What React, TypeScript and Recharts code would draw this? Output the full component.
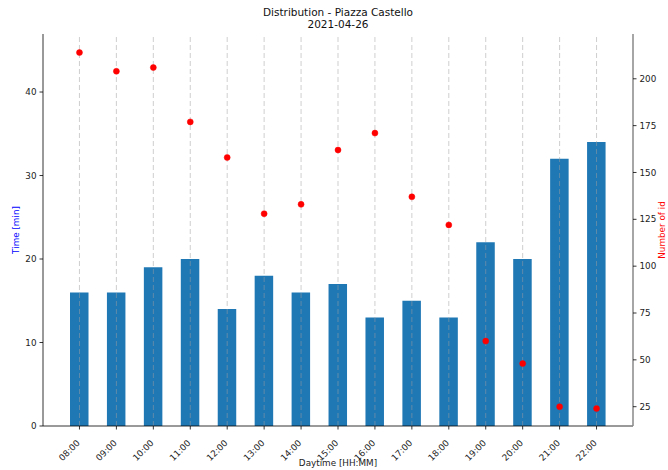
import React from 'react';
import {
  ComposedChart,
  Bar,
  Line,
  XAxis,
  YAxis,
  ReferenceLine,
} from 'recharts';

// Hourly categories on the x axis
const hours = [
  '08:00', '09:00', '10:00', '11:00', '12:00', '13:00', '14:00', '15:00',
  '16:00', '17:00', '18:00', '19:00', '20:00', '21:00', '22:00',
];

// Time spent (minutes) per hour – bars, left axis
const timeMin = [16, 16, 19, 20, 14, 18, 16, 17, 13, 15, 13, 22, 20, 32, 34];

// Number of distinct ids per hour – red dots, right axis
const idCount = [214, 204, 206, 177, 158, 128, 133, 162, 171, 137, 122, 60, 48, 25, 24];

const leftTicks = [0, 10, 20, 30, 40];
const rightTicks = [25, 50, 75, 100, 125, 150, 175, 200];

const data = hours.map((hour, i) => ({
  hour,
  time: timeMin[i],
  ids: idCount[i],
}));

const FONT = '"DejaVu Sans", sans-serif';
const W = 668;
const H = 470;
const TICK_FS = 8.8;
// vertical centre of the plotting area (top 34, bottom 426)
const PLOT_MID_Y = 230;

const RotatedTick = (props: any) => {
  const { x, y, payload } = props;
  return (
    <g transform={`translate(${x + 1},${y + 12})`}>
      <text
        x={0}
        y={0}
        transform="rotate(-45)"
        textAnchor="end"
        fontSize={TICK_FS}
        fontFamily={FONT}
        fill="#222"
      >
        {payload.value}
      </text>
    </g>
  );
};

export default function App() {
  return (
    <div
      style={{
        position: 'absolute',
        left: 0,
        top: 0,
        width: W,
        height: H,
        background: '#fff',
        fontFamily: FONT,
      }}
    >
      <div
        style={{
          position: 'absolute',
          left: 43,
          width: 590,
          top: 6,
          textAlign: 'center',
          fontSize: 10.5,
          lineHeight: '12px',
          color: '#111',
        }}
      >
        Distribution - Piazza Castello
        <br />
        2021-04-26
      </div>
      <ComposedChart
        width={W}
        height={H}
        data={data}
        margin={{ top: 34, right: 0, bottom: 0, left: 0 }}
        style={{ fontFamily: FONT }}
      >
        <XAxis
          dataKey="hour"
          type="category"
          height={44}
          padding={{ left: 18, right: 18 }}
          interval={0}
          tick={<RotatedTick />}
          tickSize={3.5}
          axisLine={{ stroke: '#000', strokeWidth: 0.8 }}
          tickLine={{ stroke: '#000', strokeWidth: 0.8 }}
          label={(p: any) => {
            const vb = p.viewBox;
            return (
              <text
                x={vb.x + vb.width / 2}
                y={466}
                textAnchor="middle"
                fontSize={TICK_FS}
                fontFamily={FONT}
                fill="#222"
              >
                Daytime [HH:MM]
              </text>
            );
          }}
        />
        <XAxis
          xAxisId="top"
          dataKey="hour"
          orientation="top"
          height={0}
          tick={false}
          tickLine={false}
          axisLine={{ stroke: '#000', strokeWidth: 0.8 }}
        />
        <YAxis
          yAxisId="left"
          orientation="left"
          width={43}
          domain={[0, 46.95]}
          ticks={leftTicks}
          allowDataOverflow
          tickSize={3.5}
          tickMargin={3}
          tick={{ fontSize: TICK_FS, fill: '#222', fontFamily: FONT }}
          axisLine={{ stroke: '#000', strokeWidth: 0.8 }}
          tickLine={{ stroke: '#000', strokeWidth: 0.8 }}
          label={() => (
            <text
              x={19}
              y={PLOT_MID_Y}
              transform={`rotate(-90, 19, ${PLOT_MID_Y})`}
              textAnchor="middle"
              fontSize={TICK_FS}
              fontFamily={FONT}
              fill="blue"
            >
              Time [min]
            </text>
          )}
        />
        <YAxis
          yAxisId="right"
          orientation="right"
          width={35}
          domain={[14.7, 223.9]}
          ticks={rightTicks}
          allowDataOverflow
          tickSize={3.5}
          tickMargin={3}
          tick={{ fontSize: TICK_FS, fill: '#222', fontFamily: FONT }}
          axisLine={{ stroke: '#888', strokeWidth: 1.5 }}
          tickLine={{ stroke: '#000', strokeWidth: 0.8 }}
          label={() => (
            <text
              x={665}
              y={PLOT_MID_Y}
              transform={`rotate(-90, 665, ${PLOT_MID_Y})`}
              textAnchor="middle"
              fontSize={TICK_FS}
              fontFamily={FONT}
              fill="red"
            >
              Number of id
            </text>
          )}
        />
        <Bar
          yAxisId="left"
          dataKey="time"
          fill="#1f77b4"
          barSize={18.5}
          isAnimationActive={false}
        />
        {hours.map((h) => (
          <ReferenceLine
            key={h}
            x={h}
            yAxisId="left"
            stroke="#a0a0a0"
            strokeOpacity={0.5}
            strokeDasharray="5 3"
            strokeWidth={1}
          />
        ))}
        <Line
          yAxisId="right"
          dataKey="ids"
          stroke="none"
          strokeWidth={0}
          dot={{ r: 3, fill: 'red', stroke: 'red', strokeWidth: 0.5 }}
          activeDot={false}
          legendType="none"
          isAnimationActive={false}
        />
      </ComposedChart>
    </div>
  );
}
